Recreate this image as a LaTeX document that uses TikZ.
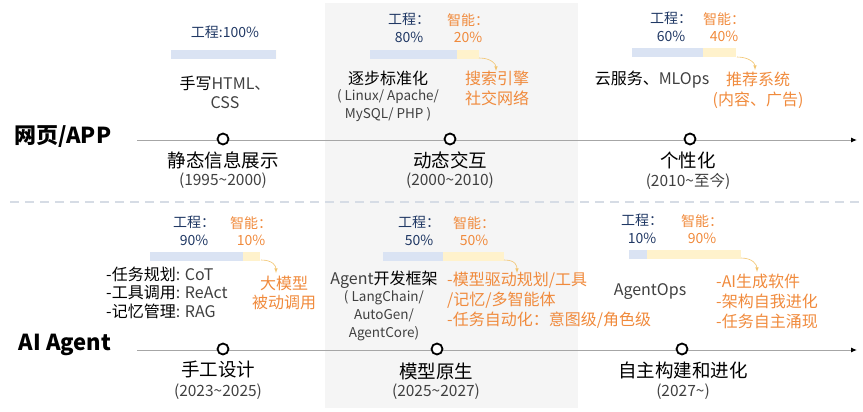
\documentclass[tikz,border=0pt]{standalone}
\usepackage{fontspec}
\setmainfont{Noto Sans CJK SC}
\usepackage{tikz, xcolor}
\usetikzlibrary{arrows.meta}

\definecolor{engblue}{HTML}{203864}
\definecolor{aiorange}{HTML}{F08A3C}
\definecolor{barblue}{HTML}{DAE3F3}
\definecolor{baryellow}{HTML}{FFF2CC}
\definecolor{hintyellow}{HTML}{F2C46E}
\definecolor{panelgray}{HTML}{F5F5F5}
\definecolor{linegray}{HTML}{A6A6A6}
\definecolor{sepgray}{HTML}{D6DCE5}
\definecolor{textgray}{HTML}{404040}

\begin{document}
\begin{tikzpicture}[x=1pt, y=-1pt, >=latex,
  axis/.style={draw=linegray, line width=1pt, -{Latex[length=6pt, width=5pt, color=black]}},
  dot/.style={circle, draw, line width=1.8pt, fill=white, minimum size=11pt, inner sep=0pt},
  rowtitle/.style={font=\bfseries\fontsize{22}{24}\selectfont},
  stage/.style={font=\fontsize{18.5}{20}\selectfont},
  period/.style={font=\fontsize{15.5}{17}\selectfont, text=textgray},
  eng/.style={font=\fontsize{14}{17.5}\selectfont, text=engblue, align=center, inner sep=0pt},
  smart/.style={font=\fontsize{14}{17.5}\selectfont, text=aiorange, align=center, inner sep=0pt},
  tool/.style={font=\fontsize{16}{19}\selectfont, align=center, inner sep=0pt},
  stack/.style={font=\fontsize{13.5}{18}\selectfont, text=textgray, align=center, inner sep=0pt},
  gain/.style={font=\fontsize{16}{20}\selectfont, text=aiorange, inner sep=0pt},
  hint/.style={draw=hintyellow, line width=.6pt, ->}]

  \useasboundingbox (0,0) rectangle (863,412);
  \fill [panelgray] (325,3) rectangle (578,408);
  \draw [sepgray, line width=1.5pt, dash pattern=on 9pt off 6pt] (10,202) to (860,202);

  \node [rowtitle] (webtitle) at (63,137) {网页/APP};
  \node [rowtitle] (agenttitle) at (65,345) {AI Agent};

  \coordinate (webstart) at (137,140);
  \coordinate (webend) at (857,140);
  \coordinate (agentstart) at (137,350);
  \coordinate (agentend) at (857,350);
  \draw [axis] (webstart) to (webend);
  \draw [axis] (agentstart) to (agentend);

  \foreach \name/\x/\y in {w1/223/139, w2/450/139, w3/690/139, a1/223/349, a2/437/349, a3/682/349}
  {
    \node [dot] (\name) at (\x,\y) {};
  }

  \node [stage] (w1name) at (223,160) {静态信息展示};
  \node [period] (w1year) at (223,181) {(1995\textasciitilde{}2000)};
  \node [stage] (w2name) at (450,160) {动态交互};
  \node [period] (w2year) at (450,181) {(2000\textasciitilde{}2010)};
  \node [stage] (w3name) at (688,160) {个性化};
  \node [period] (w3year) at (688,181) {(2010\textasciitilde{}至今)};
  \node [stage] (a1name) at (218,370) {手工设计};
  \node [period] (a1year) at (218,392) {(2023\textasciitilde{}2025)};
  \node [stage] (a2name) at (436,371) {模型原生};
  \node [period] (a2year) at (436,392) {(2025\textasciitilde{}2027)};
  \node [stage] (a3name) at (683,370) {自主构建和进化};
  \node [period] (a3year) at (683,392) {(2027\textasciitilde{})};

  \foreach \x/\m/\e/\y in {171/276/276/50, 370/457/479/50, 632/703/736/48, 150/243/260/252, 383/443/504/252, 629/647/741/250}
  {
    \fill [barblue] (\x,\y) rectangle (\m,\y+9);
    \fill [baryellow] (\m,\y) rectangle (\e,\y+9);
  }

  \node [eng] (w1eng) at (225,32) {工程:100\%};
  \node [eng] (w2eng) at (409,28) {工程：\\80\%};
  \node [smart] (w2smart) at (468,28) {智能：\\20\%};
  \node [eng] (w3eng) at (671,27) {工程：\\60\%};
  \node [smart] (w3smart) at (724,27) {智能：\\40\%};
  \node [eng] (a1eng) at (194,231) {工程：\\90\%};
  \node [smart] (a1smart) at (251,231) {智能：\\10\%};
  \node [eng] (a2eng) at (419,231) {工程：\\50\%};
  \node [smart] (a2smart) at (474,231) {智能：\\50\%};
  \node [eng] (a3eng) at (642,229) {工程：\\10\%};
  \node [smart] (a3smart) at (702,229) {智能：\\90\%};

  \foreach \s/\x/\y/\tx/\ty in {w2/479/58/496/71, w3/737/57/755/70, a1/261/260/276/273, a2/504/260/517/273, a3/741/258/757/272}
  {
    \coordinate (\s bar) at (\x,\y);
    \coordinate (\s tip) at (\tx,\ty);
    \draw [hint] (\s bar) .. controls +(12,0) and +(0,-7) .. (\s tip);
  }

  \node [tool] (w1tool) at (225,92) {手写\textcolor{textgray}{HTML、}\\\textcolor{textgray}{CSS}};
  \node [tool] (w2tool) at (388,78) {逐步标准化};
  \node [stack] (w2stack) at (388,105.5) {( Linux/ Apache/\\MySQL/ PHP )};
  \node [gain, align=center] (w2gain) at (497,88) {搜索引擎\\社交网络};
  \node [tool] (w3tool) at (652,80) {云服务、\textcolor{textgray}{MLOps}};
  \node [gain, align=center] (w3gain) at (758,90) {推荐系统\\(内容、广告)};

  \node [tool, align=left, anchor=west, font=\fontsize{16}{18.5}\selectfont] (a1tool) at (106,292.5)
    {-任务规划\textcolor{textgray}{: CoT}\\-工具调用\textcolor{textgray}{: ReAct}\\-记忆管理\textcolor{textgray}{: RAG}};
  \node [gain, align=center, font=\fontsize{16}{19}\selectfont] (a1gain) at (284,292.5) {大模型\\被动调用};
  \node [tool] (a2tool) at (384,280) {\textcolor{textgray}{Agent}开发框架};
  \node [stack] (a2stack) at (384,316) {( LangChain/\\AutoGen/\\AgentCore)};
  \node [gain, align=left, anchor=west] (a2gain) at (447,300)
    {-模型驱动规划/工具\\/记忆/多智能体\\-任务自动化：意图级/角色级};
  \node [tool, text=textgray] (a3tool) at (650,292) {AgentOps};
  \node [gain, align=left, anchor=west] (a3gain) at (716,301)
    {-AI生成软件\\-架构自我进化\\-任务自主涌现};

\end{tikzpicture}
\end{document}
